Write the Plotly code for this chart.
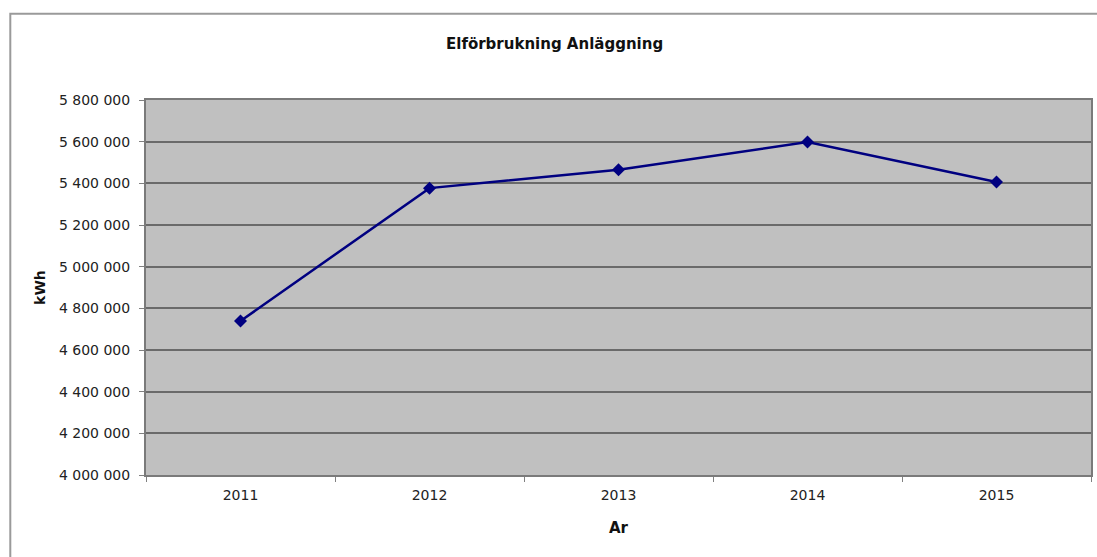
import plotly.graph_objects as go

years = ["2011", "2012", "2013", "2014", "2015"]
kwh = [4739000, 5377000, 5465000, 5598000, 5406000]

fig = go.Figure()

fig.add_trace(go.Scatter(
    x=years,
    y=kwh,
    mode="lines+markers",
    line=dict(color="#000080", width=2.5),
    marker=dict(symbol="diamond", size=10, color="#000080"),
    showlegend=False,
    hoverinfo="x+y",
))

axis_font = dict(family="DejaVu Sans, sans-serif", size=14, color="#222222")
title_font = dict(family="DejaVu Sans, sans-serif", size=14, color="#111111")

fig.update_layout(
    width=1097,
    height=557,
    margin=dict(l=146, r=4, t=100, b=82),
    paper_bgcolor="white",
    plot_bgcolor="#c0c0c0",
    separators=", ",
    font=axis_font,
    xaxis=dict(
        type="category",
        range=[-0.5, 4.5],
        tickson="boundaries",
        ticks="outside",
        ticklen=5,
        tickcolor="#808080",
        showgrid=False,
        showline=True,
        linecolor="#7a7a7a",
        linewidth=2,
        mirror=True,
        tickfont=axis_font,
        ticklabelstandoff=6,
        title=dict(text="<b>Ar</b>", font=dict(title_font, size=15), standoff=21),
    ),
    yaxis=dict(
        range=[4000000, 5800000],
        dtick=200000,
        tickformat=",d",
        ticks="outside",
        ticklen=5,
        tickcolor="#808080",
        showgrid=True,
        gridcolor="#6a6a6a",
        gridwidth=1.5,
        showline=True,
        linecolor="#7a7a7a",
        linewidth=2,
        mirror=True,
        zeroline=False,
        tickfont=axis_font,
        ticklabelstandoff=6,
        title=dict(text="<b>kWh</b>", font=title_font, standoff=10),
    ),
    annotations=[dict(
        text="<b>Elförbrukning Anläggning</b>",
        xref="paper", yref="paper",
        x=0.432, y=1.149,
        yanchor="middle",
        showarrow=False,
        font=dict(title_font, size=15),
    )],
    shapes=[dict(
        type="rect",
        xref="paper", yref="paper",
        x0=-0.1436, x1=1.02, y0=-0.3, y1=1.23,
        line=dict(color="#9a9a9a", width=2),
        layer="below",
    )],
)

fig.write_html("out.html", config={"displayModeBar": False},
               post_script="document.body.style.margin='0';")
